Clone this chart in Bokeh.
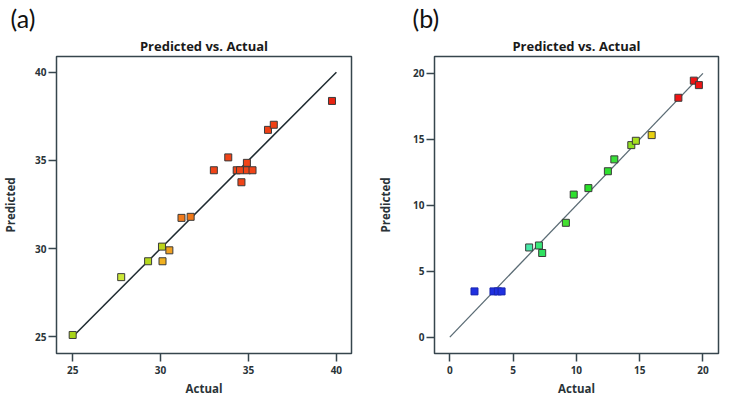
from bokeh.plotting import figure
from bokeh.models import ColumnDataSource, Range1d, FixedTicker, Title
from bokeh.layouts import row
from bokeh.embed import file_html
from bokeh.resources import INLINE

# ---------------- data: panel (a) ----------------
actual_a = [25.0, 27.76, 29.29, 30.08, 30.11, 30.5, 31.19, 31.71, 33.03, 33.85,
            34.33, 34.52, 34.91, 35.23, 34.91, 34.6, 36.11, 36.44, 39.75]
pred_a = [25.1, 28.38, 29.28, 30.11, 29.28, 29.9, 31.74, 31.8, 34.44, 35.17,
          34.44, 34.44, 34.44, 34.44, 34.86, 33.76, 36.73, 37.02, 38.37]
colors_a = ["#a8d418", "#cce838", "#b4d81c", "#bcd41c", "#f0b020", "#f0a020",
            "#f07a1c", "#f07818", "#f04418", "#f04418", "#f04418", "#f04418",
            "#f04418", "#f04418", "#f04418", "#f04418", "#f04014", "#f04014",
            "#e82412"]
ticks_a = [25, 30, 35, 40]
diag_a = [25, 40]

# ---------------- data: panel (b) ----------------
actual_b = [1.95, 3.45, 3.8, 4.09, 6.27, 7.04, 7.3, 9.17, 9.79, 10.95,
            12.49, 13.0, 14.34, 14.7, 15.95, 18.06, 19.28, 19.68]
pred_b = [3.47, 3.47, 3.47, 3.47, 6.8, 6.95, 6.38, 8.67, 10.81, 11.3,
          12.58, 13.48, 14.56, 14.89, 15.32, 18.15, 19.45, 19.11]
colors_b = ["#1f30e0", "#1f30e0", "#1f30e0", "#1f30e0", "#48e8a8", "#38e878",
            "#30e060", "#44e030", "#2ee02e", "#28e028", "#30e030", "#38e038",
            "#90e020", "#a8e020", "#e8d010", "#f01414", "#f01414", "#f01414"]
edges_b = ["#1a26b0"] * 4 + ["#3a3a3a"] * 14
ticks_b = [0, 5, 10, 15, 20]
diag_b = [0, 20]

FRAME = "#36454d"
FONT = "Open Sans"


def style(p, ticks, y_label_standoff, x_label_standoff):
    p.xgrid.visible = False
    p.ygrid.visible = False
    p.outline_line_color = FRAME
    p.outline_line_width = 1.5
    p.outline_line_alpha = 1.0
    for ax in (p.xaxis[0], p.yaxis[0]):
        ax.ticker = FixedTicker(ticks=ticks)
        ax.axis_line_color = None
        ax.major_tick_line_color = FRAME
        ax.major_tick_line_width = 1.5
        ax.major_tick_out = 8
        ax.major_tick_in = 0
        ax.minor_tick_line_color = None
        ax.major_label_text_font = FONT
        ax.major_label_text_font_style = "bold"
        ax.major_label_text_font_size = "10px"
        ax.major_label_text_color = "#2a3338"
        ax.axis_label_text_font = FONT
        ax.axis_label_text_font_size = "11.5px"
        ax.axis_label_text_font_style = "bold"
        ax.axis_label_text_color = "#2a3338"
    p.yaxis[0].major_label_standoff = 2
    p.xaxis[0].major_label_standoff = 4
    p.yaxis[0].axis_label = "Predicted"
    p.xaxis[0].axis_label = "Actual"
    p.yaxis[0].axis_label_standoff = y_label_standoff
    p.xaxis[0].axis_label_standoff = x_label_standoff


def add_titles(p, letter, letter_offset):
    # first added sits next to the frame, later ones stack outward
    p.add_layout(Title(text="Predicted vs. Actual", align="center",
                       text_font=FONT, text_font_size="13px",
                       text_font_style="bold", text_color="#1a1a1a",
                       standoff=4), "above")
    p.add_layout(Title(text=letter, align="left", offset=letter_offset,
                       text_font="Lato", text_font_size="25px",
                       text_font_style="normal", text_color="#111111",
                       standoff=0), "above")


# ---------------- panel (a) ----------------
src_a = ColumnDataSource(dict(x=actual_a, y=pred_a, c=colors_a))
p1 = figure(width=354, height=398, x_range=Range1d(24.08, 40.86),
            y_range=Range1d(24.05, 40.89), min_border_left=50,
            min_border_right=3, min_border_top=40, min_border_bottom=40,
            output_backend="svg", toolbar_location=None, title=None)
style(p1, ticks_a, 14, 4)
add_titles(p1, "(a)", -46)
p1.line(diag_a, diag_a, line_color="#1e2a30", line_width=1.5)
p1.scatter("x", "y", source=src_a, marker="square", size=7,
           fill_color="c", line_color="#3a3a3a", line_width=1)

# ---------------- panel (b) ----------------
src_b = ColumnDataSource(dict(x=actual_b, y=pred_b, c=colors_b, e=edges_b))
p2 = figure(width=366, height=398, x_range=Range1d(-1.21, 21.23),
            y_range=Range1d(-1.24, 21.28), min_border_left=80,
            min_border_right=2, min_border_top=40, min_border_bottom=40,
            output_backend="svg", toolbar_location=None, title=None)
style(p2, ticks_b, 17, 4)
add_titles(p2, "(b)", -22)
p2.line(diag_b, diag_b, line_color="#5a6b74", line_width=1.3)
p2.scatter("x", "y", source=src_b, marker="square", size=7,
           fill_color="c", line_color="e", line_width=1)

layout = row(p1, p2)
open("out.html", "w").write(file_html(layout, INLINE))
